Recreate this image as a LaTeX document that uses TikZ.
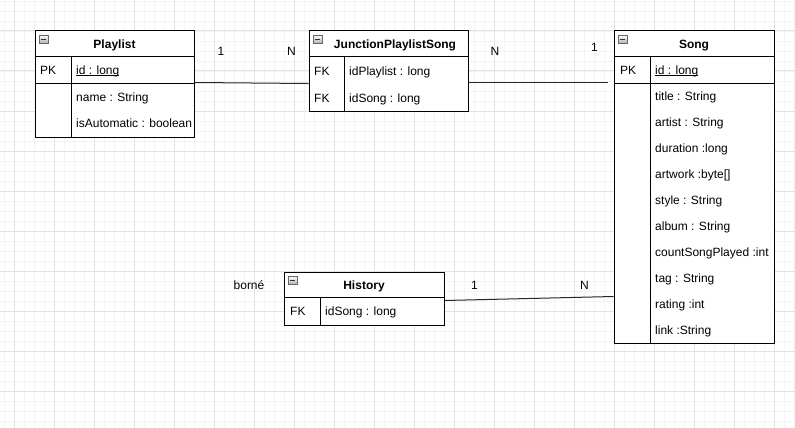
\documentclass[tikz,border=0pt]{standalone}
\usepackage{fontspec}
\setmainfont{Liberation Sans}
\usetikzlibrary{calc}
\definecolor{gridmin}{HTML}{F4F4F4}
\definecolor{gridmaj}{HTML}{E2E2E2}
\newcommand{\myul}[1]{\setbox0\hbox{#1}\rlap{\rule[-1.6pt]{\wd0}{0.8pt}}#1}
\tikzset{
  gridminor/.style={draw=gridmin, line width=0.8pt},
  gridmajor/.style={draw=gridmaj, line width=1pt},
  tbl/.style={draw=black, fill=white, line width=1pt, inner sep=0pt, rectangle},
  sep/.style={draw=black, line width=1pt},
  cell/.style={anchor=base west, inner sep=0pt, font=\fontsize{12}{14}\selectfont},
  head/.style={anchor=base, inner sep=0pt, font=\bfseries\fontsize{12}{14}\selectfont},
  lbl/.style={anchor=base, inner sep=0pt, font=\fontsize{12}{14}\selectfont},
  conn/.style={draw=black!85, line width=1pt},
  icon/.style={draw=black!60, line width=0.6pt, top color=white, bottom color=black!30},
}
\newcommand{\minusicon}[2]{%
  \path[icon] (#1,#2) rectangle ++(9,8);
  \draw[black!80, line width=0.8pt] (#1+2,#2+4) -- (#1+7,#2+4);
}
\begin{document}
\begin{tikzpicture}[x=1pt,y=-1pt]
\useasboundingbox (0,0) rectangle (795,428);
\fill[white] (0,0) rectangle (795,428);
% grid
\foreach \x in {4,14,...,794} \draw[gridminor] (\x,0) -- (\x,428);
\foreach \y in {1,11,...,421} \draw[gridminor] (0,\y) -- (795,\y);
\foreach \x in {14,54,...,774} \draw[gridmajor] (\x,0) -- (\x,428);
\foreach \y in {31,71,...,391} \draw[gridmajor] (0,\y) -- (795,\y);

% ---------- Playlist ----------
\node[tbl, minimum width=159pt, minimum height=106pt] (playlist) at (114.5,84) {};
\draw[sep] (35,57) -- (194,57);
\draw[sep] (35,83) -- (194,83);
\draw[sep] (71,57) -- (71,137);
\minusicon{39}{35}
\node[head] (playlisth) at (114.5,48.5) {Playlist};
\node[cell] (plpk) at (40,74.5) {PK};
\node[cell] (plid) at (76,74.5) {\myul{id : long}};
\node[cell] (plname) at (76,101) {name : String};
\node[cell] (plauto) at (76,127.5) {isAutomatic : boolean};

% ---------- JunctionPlaylistSong ----------
\node[tbl, minimum width=159pt, minimum height=80pt] (junction) at (388.5,71) {};
\draw[sep] (309,57) -- (468,57);
\draw[sep] (344,57) -- (344,111);
\minusicon{313}{35}
\node[head] (junctionh) at (395,48.5) {JunctionPlaylistSong};
\node[cell] (jfk1) at (314,75) {FK};
\node[cell] (jidp) at (349,75) {idPlaylist : long};
\node[cell] (jfk2) at (314,102) {FK};
\node[cell] (jids) at (349,102) {idSong : long};

% ---------- Song ----------
\node[tbl, minimum width=160pt, minimum height=312pt] (song) at (694,187) {};
\draw[sep] (614,57) -- (774,57);
\draw[sep] (614,83) -- (774,83);
\draw[sep] (650,57) -- (650,343);
\minusicon{618}{35}
\node[head] (songh) at (694,48.5) {Song};
\node[cell] (spk) at (620,74.5) {PK};
\node[cell] (sid) at (655,74.5) {\myul{id : long}};
\node[cell] (s1) at (655,100.5) {title : String};
\node[cell] (s2) at (655,126.5) {artist : String};
\node[cell] (s3) at (655,152.5) {duration :long};
\node[cell] (s4) at (655,178.5) {artwork :byte[]};
\node[cell] (s5) at (655,204.5) {style : String};
\node[cell] (s6) at (655,230.5) {album : String};
\node[cell] (s7) at (655,256.5) {countSongPlayed :int};
\node[cell] (s8) at (655,282.5) {tag : String};
\node[cell] (s9) at (655,308.5) {rating :int};
\node[cell] (s10) at (655,334.5) {link :String};

% ---------- History ----------
\node[tbl, minimum width=160pt, minimum height=53pt] (history) at (364,298.5) {};
\draw[sep] (284,297) -- (444,297);
\draw[sep] (320,297) -- (320,325);
\minusicon{288}{276}
\node[head] (historyh) at (364,289) {History};
\node[cell] (hfk) at (290,315) {FK};
\node[cell] (hids) at (325,315) {idSong : long};

% ---------- connectors ----------
\draw[conn] ($(playlist.north east)+(0,52)$) -- ($(junction.north west)+(0,53)$);
\draw[conn] ($(junction.north east)+(0,52)$) -- ($(song.north west)+(-6,52)$);
\draw[conn] ($(history.north east)+(0,29)$) -- ($(song.north west)+(0,266)$);

% ---------- labels ----------
\node[lbl] (l1) at (221,55.5) {1};
\node[lbl] (l2) at (291.5,55.5) {N};
\node[lbl] (l3) at (495,55.5) {N};
\node[lbl] (l4) at (594.5,51.5) {1};
\node[lbl] (l5) at (249,289) {borné};
\node[lbl] (l6) at (474.5,289) {1};
\node[lbl] (l7) at (584.5,289) {N};
\end{tikzpicture}
\end{document}
